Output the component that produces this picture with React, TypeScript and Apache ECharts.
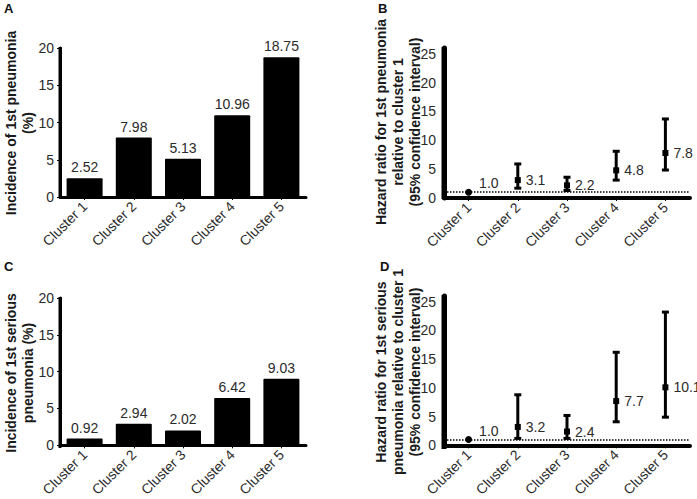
import React, { useEffect, useRef } from "react";
import * as echarts from "echarts";

const categories = ["Cluster 1", "Cluster 2", "Cluster 3", "Cluster 4", "Cluster 5"];
const incidenceFirst = [2.52, 7.98, 5.13, 10.96, 18.75];
const incidenceSerious = [0.92, 2.94, 2.02, 6.42, 9.03];
const hrFirst = [1.0, 3.1, 2.2, 4.8, 7.8];
const hrFirstLow = [null, 1.7, 1.3, 3.1, 4.85];
const hrFirstHigh = [null, 5.9, 3.6, 8.1, 13.7];
const hrSerious = [1.0, 3.2, 2.4, 7.7, 10.1];
const hrSeriousLow = [null, 1.2, 1.2, 4.1, 4.9];
const hrSeriousHigh = [null, 8.8, 5.2, 16.2, 23.2];
const incidenceTicks = [0, 5, 10, 15, 20];
const hrTicks = [0, 5, 10, 15, 20, 25];

const FONT = "'Liberation Sans', Arial, Helvetica, sans-serif";
const TXT = "#2b2b2b";
const W = 697;
const H = 499;

export default function App() {
  const ref = useRef<HTMLDivElement>(null);
  useEffect(() => {
    if (!ref.current) return;
    const chart = echarts.init(ref.current, undefined, { renderer: "svg" });

    const grids = [
      { left: 60, right: 391, top: 48, bottom: 302 },
      { left: 444, right: 7, top: 48, bottom: 301 },
      { left: 60, right: 391, top: 298, bottom: 52 },
      { left: 444, right: 7, top: 296, bottom: 51 },
    ];
    const yLineWidths = [3, 5, 3, 5];

    const xAxes = grids.map((_, i) => ({
      type: "category",
      gridIndex: i,
      data: categories,
      boundaryGap: true,
      axisLine: { show: true, lineStyle: { color: "#000", width: i % 2 === 0 ? 3 : 4 } },
      axisTick: { show: true, alignWithLabel: true, length: 3, lineStyle: { color: "#000", width: 1 } },
      axisLabel: { rotate: 45, fontSize: 14, color: TXT, fontFamily: FONT, margin: 7 },
      z: 5,
    }));

    const yAxes = grids.map((_, i) => {
      const isBar = i % 2 === 0;
      const ticks = isBar ? incidenceTicks : hrTicks;
      return {
        type: "value",
        gridIndex: i,
        position: "left",
        min: 0,
        max: isBar ? ticks[ticks.length - 1] : 26,
        interval: 5,
        splitLine: { show: false },
        axisLine: { show: true, lineStyle: { color: "#000", width: yLineWidths[i] } },
        axisTick: { show: isBar, length: 3, lineStyle: { color: "#000" } },
        axisLabel: {
          fontSize: 14,
          color: TXT,
          fontFamily: FONT,
          margin: isBar ? 6 : 8,
          formatter: (v: number) => (ticks.indexOf(v) >= 0 ? String(v) : ""),
        },
      };
    });

    const barSeries = (idx: number, data: number[]) => ({
      type: "bar",
      xAxisIndex: idx,
      yAxisIndex: idx,
      data,
      barWidth: 36,
      itemStyle: { color: "#000", borderRadius: 1 },
      label: {
        show: true,
        position: "top",
        fontSize: 14,
        color: TXT,
        fontFamily: FONT,
        distance: 4,
        formatter: (p: any) => p.value.toFixed(2),
      },
    });

    const errSeries = (idx: number, low: (number | null)[], high: (number | null)[]) => ({
      type: "custom",
      xAxisIndex: idx,
      yAxisIndex: idx,
      data: low
        .map((l, i) => (l == null ? null : [i, l, high[i]]))
        .filter((d) => d != null),
      renderItem: (params: any, api: any) => {
        const x = api.value(0);
        const lo = api.coord([x, api.value(1)]);
        const hi = api.coord([x, api.value(2)]);
        return {
          type: "group",
          children: [
            {
              type: "rect",
              shape: { x: lo[0] - 1.5, y: hi[1], width: 3, height: lo[1] - hi[1] },
              style: { fill: "#000" },
            },
            { type: "rect", shape: { x: hi[0] - 3.5, y: hi[1] - 1.5, width: 7, height: 3 }, style: { fill: "#000" } },
            { type: "rect", shape: { x: lo[0] - 3.5, y: lo[1] - 1.5, width: 7, height: 3 }, style: { fill: "#000" } },
          ],
        };
      },
      z: 3,
    });

    const pointSeries = (idx: number, data: number[]) => ({
      type: "scatter",
      xAxisIndex: idx,
      yAxisIndex: idx,
      z: 4,
      data: data.map((v, i) =>
        i === 0
          ? {
              value: v,
              symbol: "circle",
              symbolSize: 7,
              label: { position: "right", offset: [2, -9] },
            }
          : { value: v, symbol: "rect", symbolSize: 6 }
      ),
      itemStyle: { color: "#000", opacity: 1 },
      label: {
        show: true,
        position: "right",
        distance: 5,
        fontSize: 14,
        color: TXT,
        opacity: 1,
        fontFamily: FONT,
        formatter: (p: any) => p.value.toFixed(1),
      },
      markLine: {
        silent: true,
        symbol: "none",
        label: { show: false },
        lineStyle: { color: "#000", type: "dotted", width: 1.5 },
        data: [{ yAxis: 1 }],
      },
    });

    const titleStyle = (text: string) => ({
      text,
      font: `bold 14px ${FONT}`,
      fill: "#1a1a1a",
      align: "center",
      verticalAlign: "middle",
      lineHeight: 17,
    });

    // solid bars along each y-axis (layout decoration, unclipped)
    const axisRects = grids.map((g, i) => ({
      type: "rect",
      z: 100,
      silent: true,
      shape: {
        x: g.left - yLineWidths[i] / 2,
        y: g.top - 1,
        width: yLineWidths[i],
        height: H - g.bottom - g.top + 2,
      },
      style: { fill: "#000" },
    }));

    const graphic = [
      { type: "text", left: 4, top: 2, style: { text: "A", font: `bold 13px ${FONT}`, fill: "#111" } },
      { type: "text", left: 378, top: 2, style: { text: "B", font: `bold 13px ${FONT}`, fill: "#111" } },
      { type: "text", left: 4, top: 260, style: { text: "C", font: `bold 13px ${FONT}`, fill: "#111" } },
      { type: "text", left: 380, top: 260, style: { text: "D", font: `bold 13px ${FONT}`, fill: "#111" } },
      { type: "text", x: 19, y: 123, rotation: Math.PI / 2, style: titleStyle("Incidence of 1st pneumonia\n(%)") },
      {
        type: "text",
        x: 398,
        y: 122,
        rotation: Math.PI / 2,
        style: titleStyle("Hazard ratio for 1st pneumonia\nrelative to cluster 1\n(95% confidence interval)"),
      },
      { type: "text", x: 19, y: 373, rotation: Math.PI / 2, style: titleStyle("Incidence of 1st serious\npneumonia (%)") },
      {
        type: "text",
        x: 398,
        y: 372,
        rotation: Math.PI / 2,
        style: titleStyle("Hazard ratio for 1st serious\npneumonia relative to cluster 1\n(95% confidence interval)"),
      },
      ...axisRects,
    ];

    chart.setOption({
      animation: false,
      backgroundColor: "#fff",
      grid: grids,
      xAxis: xAxes,
      yAxis: yAxes,
      graphic,
      series: [
        barSeries(0, incidenceFirst),
        errSeries(1, hrFirstLow, hrFirstHigh),
        pointSeries(1, hrFirst),
        barSeries(2, incidenceSerious),
        errSeries(3, hrSeriousLow, hrSeriousHigh),
        pointSeries(3, hrSerious),
      ],
    });
    return () => chart.dispose();
  }, []);
  return (
    <div
      ref={ref}
      style={{ position: "absolute", left: 0, top: 0, width: W, height: H, background: "#fff" }}
    />
  );
}
